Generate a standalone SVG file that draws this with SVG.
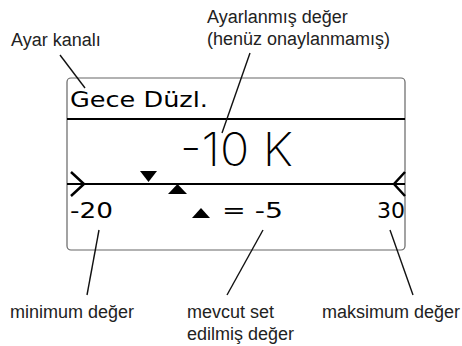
<svg xmlns="http://www.w3.org/2000/svg" width="462" height="346" viewBox="0 0 462 346">
<style>
.lbl{font-family:"Liberation Sans",Arial,sans-serif;font-size:18px;fill:#222}
.lcd{font-family:"DejaVu Sans",sans-serif;font-size:22px;fill:#000}
.big{font-family:"Inter","Liberation Sans",sans-serif;font-size:46px;font-weight:200;fill:#000}
.lead{stroke:#111;stroke-width:1.4;fill:none}
</style>
<rect width="462" height="346" fill="#fff"/>
<g id="display">
<rect x="67" y="78" width="338" height="172" rx="4" fill="#fff" stroke="#666" stroke-width="1.2"/>
<line x1="67" y1="119" x2="405" y2="119" stroke="#000" stroke-width="2"/>
<text class="lcd" x="70" y="107" textLength="138" lengthAdjust="spacingAndGlyphs">Gece Düzl.</text>
<text class="big" x="180" y="166" textLength="113" lengthAdjust="spacingAndGlyphs">-10 K</text>
<line x1="67" y1="184" x2="405" y2="184" stroke="#000" stroke-width="1.8"/>
<polyline points="71,172 84,184 71,196" fill="none" stroke="#000" stroke-width="2.5"/>
<polyline points="405,172 394,184 405,196" fill="none" stroke="#000" stroke-width="2.5"/>
<polygon points="140,171 157,171 148.5,182" fill="#000"/>
<polygon points="168,194 187,194 177.5,184" fill="#000"/>
<text class="lcd" x="70" y="218" textLength="43" lengthAdjust="spacingAndGlyphs">-20</text>
<polygon points="192,218 210,218 201,208" fill="#000"/>
<text class="lcd" x="222" y="218" textLength="61" lengthAdjust="spacingAndGlyphs">= -5</text>
<text class="lcd" x="377" y="218" textLength="28" lengthAdjust="spacingAndGlyphs">30</text>
</g>
<g id="connectors">
<line class="lead" x1="60" y1="55" x2="85" y2="88"/>
<line class="lead" x1="250" y1="53" x2="222" y2="133"/>
<line class="lead" x1="99" y1="230" x2="87" y2="295"/>
<line class="lead" x1="263" y1="230" x2="227" y2="295"/>
<line class="lead" x1="390" y1="230" x2="413" y2="295"/>
</g>
<g id="label-kanal"><text class="lbl" x="11" y="46">Ayar kanalı</text></g>
<g id="label-ayar"><text class="lbl" x="207" y="23">Ayarlanmış değer</text><text class="lbl" x="207" y="45">(henüz onaylanmamış)</text></g>
<g id="label-min"><text class="lbl" x="10" y="318">minimum değer</text></g>
<g id="label-mevcut"><text class="lbl" x="187" y="318">mevcut set</text><text class="lbl" x="187" y="340">edilmiş değer</text></g>
<g id="label-max"><text class="lbl" x="322" y="318">maksimum değer</text></g>
</svg>
